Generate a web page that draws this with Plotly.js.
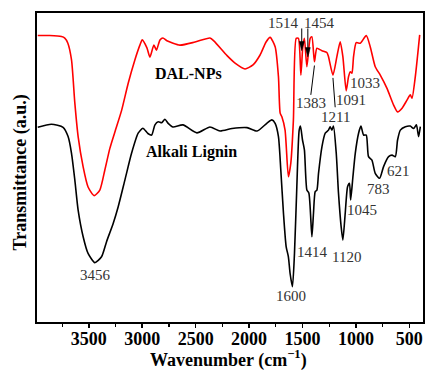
<!DOCTYPE html>
<html>
<head>
<meta charset="utf-8">
<script src="https://cdn.plot.ly/plotly-3.0.1.min.js"></script>
<style>html,body{margin:0;padding:0;background:#fff;}#chart{width:425px;height:370px;}</style>
</head>
<body>
<div id="chart"></div>
<script>
// DAL-NPs spectrum (wavenumber, transmittance a.u.)
const wnDAL = [3978,3866,3756,3725,3697,3662,3631,3600,3553,3507,3450,3397,3350,3303,3256,3193,3132,3069,3022,3000,2956,2928,2891,2867,2834,2806,2769,2647,2506,2366,2328,2206,2131,2038,1963,1897,1841,1803,1756,1725,1709,1693,1663,1632,1609,1585,1559,1538,1515,1497,1482,1459,1428,1412,1388,1365,1318,1272,1257,1215,1178,1147,1122,1091,1069,1053,1037,1022,997,959,903,866,819,772,709,647,610,568,522,491,475,444,403];
const tDAL = [92.7,92.7,92.4,91.9,90.3,84.8,70.9,60.0,50.2,43.7,40.9,42.7,49.2,56.2,61.5,68.5,77.2,84.8,89.6,91.3,88.7,85.7,89.6,88.0,91.3,91.9,91.0,89.6,90.6,91.9,90.9,86.2,83.8,81.9,83.2,86.4,90.6,92.1,89.1,79.4,67.6,66.4,62.1,47.0,51.5,65.4,91.8,91.8,79.9,89.1,91.8,82.6,91.8,92.3,84.2,88.6,87.8,87.2,85.9,79.9,85.9,90.7,85.9,74.8,79.4,81.0,80.5,85.9,90.4,90.2,92.7,89.1,82.6,79.9,75.6,70.2,68.0,69.2,71.8,73.5,72.4,79.4,92.9];

// Alkali Lignin spectrum
const wnAL = [3978,3850,3741,3694,3662,3631,3600,3553,3507,3444,3381,3334,3272,3225,3162,3100,3038,2994,2947,2912,2881,2850,2818,2788,2757,2712,2619,2488,2366,2272,2159,2019,1925,1834,1787,1756,1725,1703,1678,1653,1632,1616,1594,1575,1553,1531,1519,1500,1482,1459,1440,1412,1397,1381,1365,1350,1318,1287,1257,1241,1225,1210,1184,1163,1138,1122,1100,1078,1060,1049,1028,1006,975,953,928,903,882,850,819,778,741,694,662,631,610,584,537,491,460,434,413,397];
const tAL = [63.0,64.0,63.0,60.0,54.6,46.0,36.2,27.6,22.2,19.2,21.1,26.0,31.9,37.3,46.0,54.6,61.1,62.7,61.0,60.5,63.8,64.8,64.5,65.6,64.3,63.1,63.8,61.2,63.1,61.8,62.6,62.9,61.8,64.3,65.4,64.3,60.0,49.2,35.2,24.4,21.1,15.7,11.4,22.2,43.8,62.1,63.4,58.9,55.7,42.7,41.7,27.6,35.2,42.2,42.7,48.1,56.7,61.1,62.1,63.2,62.1,63.4,54.6,41.7,30.8,26.5,35.2,43.8,44.9,39.5,47.0,54.6,61.1,63.4,60.5,60.5,53.5,52.4,48.1,46.5,50.3,53.5,54.0,53.5,58.9,62.1,63.2,63.4,62.6,63.8,60.0,63.2];

// tick labels
const xTickVals = [3500,3000,2500,2000,1500,1000,500];
const xTickText = ['3500','3000','2500','2000','1500','1000','500'];

// peak labels
const peakLabelsDAL = ['1514','1454','1383','1211','1091','1033'];
const peakLabelsAL = ['3456','1600','1414','1120','1045','783','621'];
const seriesNames = ['DAL-NPs','Alkali Lignin'];
const axisTitles = ['Wavenumber (cm<sup>−1</sup>)', 'Transmittance (a.u.)'];

const serif = 'Liberation Serif, Times New Roman, serif';

const traces = [
  {x: wnDAL, y: tDAL, mode: 'lines', line: {color: '#ff0000', width: 1.6, shape: 'spline', smoothing: 0.6}, name: seriesNames[0], hoverinfo: 'skip'},
  {x: wnAL, y: tAL, mode: 'lines', line: {color: '#000000', width: 1.6, shape: 'spline', smoothing: 0.6}, name: seriesNames[1], hoverinfo: 'skip'}
];

const dalPos = [[1678,96.7],[1341,96.7],[1422,70.8],[1194,66.4],[1047,71.8],[919,77.4]];
const alPos = [[3436,15.2],[1606,8.4],[1405,22.8],[1088,21.1],[943,36.2],[788,42.9],[597,49.0]];

const annotations = [];
const numFont = {family: serif, size: 15, color: '#333333'};
peakLabelsDAL.forEach((t,i)=>annotations.push({x: dalPos[i][0], y: dalPos[i][1], text: t, showarrow: false, font: numFont, xanchor: 'center', yanchor: 'middle'}));
peakLabelsAL.forEach((t,i)=>annotations.push({x: alPos[i][0], y: alPos[i][1], text: t, showarrow: false, font: numFont, xanchor: 'center', yanchor: 'middle'}));
annotations.push({x: 2563, y: 80.3, text: '<b>' + seriesNames[0] + '</b>', showarrow: false, font: {family: serif, size: 16, color: '#000'}});
annotations.push({x: 2537, y: 55.1, text: '<b>' + seriesNames[1] + '</b>', showarrow: false, font: {family: serif, size: 16, color: '#000'}});
// axis titles
annotations.push({xref: 'paper', yref: 'paper', x: 0.497, y: -0.12, text: '<b>' + axisTitles[0] + '</b>', showarrow: false, xanchor: 'center', yanchor: 'middle', font: {family: serif, size: 18, color: '#000'}});
annotations.push({xref: 'paper', yref: 'paper', x: -0.0433, y: 0.485, text: '<b>' + axisTitles[1] + '</b>', textangle: -90, showarrow: false, xanchor: 'center', yanchor: 'middle', font: {family: serif, size: 18, color: '#000'}});

const shapes = [
  // leader lines
  {type: 'line', xref: 'x', yref: 'y', x0: 1422, y0: 73.5, x1: 1388, y1: 83.0, line: {color: '#000', width: 1}},
  {type: 'line', xref: 'x', yref: 'y', x0: 1215, y0: 79.0, x1: 1194, y1: 69.5, line: {color: '#000', width: 1}},
  // arrows 1514 and 1454
  {type: 'line', xref: 'x', yref: 'y', x0: 1507, y0: 95.0, x1: 1507, y1: 90.5, line: {color: '#000', width: 1}},
  {type: 'path', xref: 'x', yref: 'y', path: 'M 1530 90.8 L 1484 90.8 L 1507 87.8 Z', fillcolor: '#000', line: {color: '#000', width: 0.5}},
  {type: 'line', xref: 'x', yref: 'y', x0: 1450, y0: 95.0, x1: 1450, y1: 88.5, line: {color: '#000', width: 1}},
  {type: 'path', xref: 'x', yref: 'y', path: 'M 1473 88.8 L 1427 88.8 L 1450 85.8 Z', fillcolor: '#000', line: {color: '#000', width: 0.5}}
];

const layout = {
  width: 425, height: 370,
  margin: {l: 37, r: 2, t: 13, b: 48},
  paper_bgcolor: '#fff', plot_bgcolor: '#fff',
  showlegend: false,
  xaxis: {
    range: [3985, 372],
    tickvals: xTickVals, ticktext: xTickText,
    ticks: 'outside', ticklen: 4, tickwidth: 1.5, tickcolor: '#000',
    ticklabelstandoff: -5,
    minor: {dtick: 250, tick0: 0, ticks: 'outside', ticklen: 3, tickwidth: 1.2, tickcolor: '#000'},
    showgrid: false, zeroline: false,
    showline: true, linecolor: '#000', linewidth: 2, mirror: true,
    tickfont: {family: serif, size: 18, color: '#000', weight: 'bold'}
  },
  yaxis: {
    range: [0, 100],
    showticklabels: false, ticks: '',
    showgrid: false, zeroline: false,
    showline: true, linecolor: '#000', linewidth: 2, mirror: true
  },
  annotations: annotations,
  shapes: shapes
};

Plotly.newPlot('chart', traces, layout, {displayModeBar: false, staticPlot: true});
</script>
</body>
</html>
